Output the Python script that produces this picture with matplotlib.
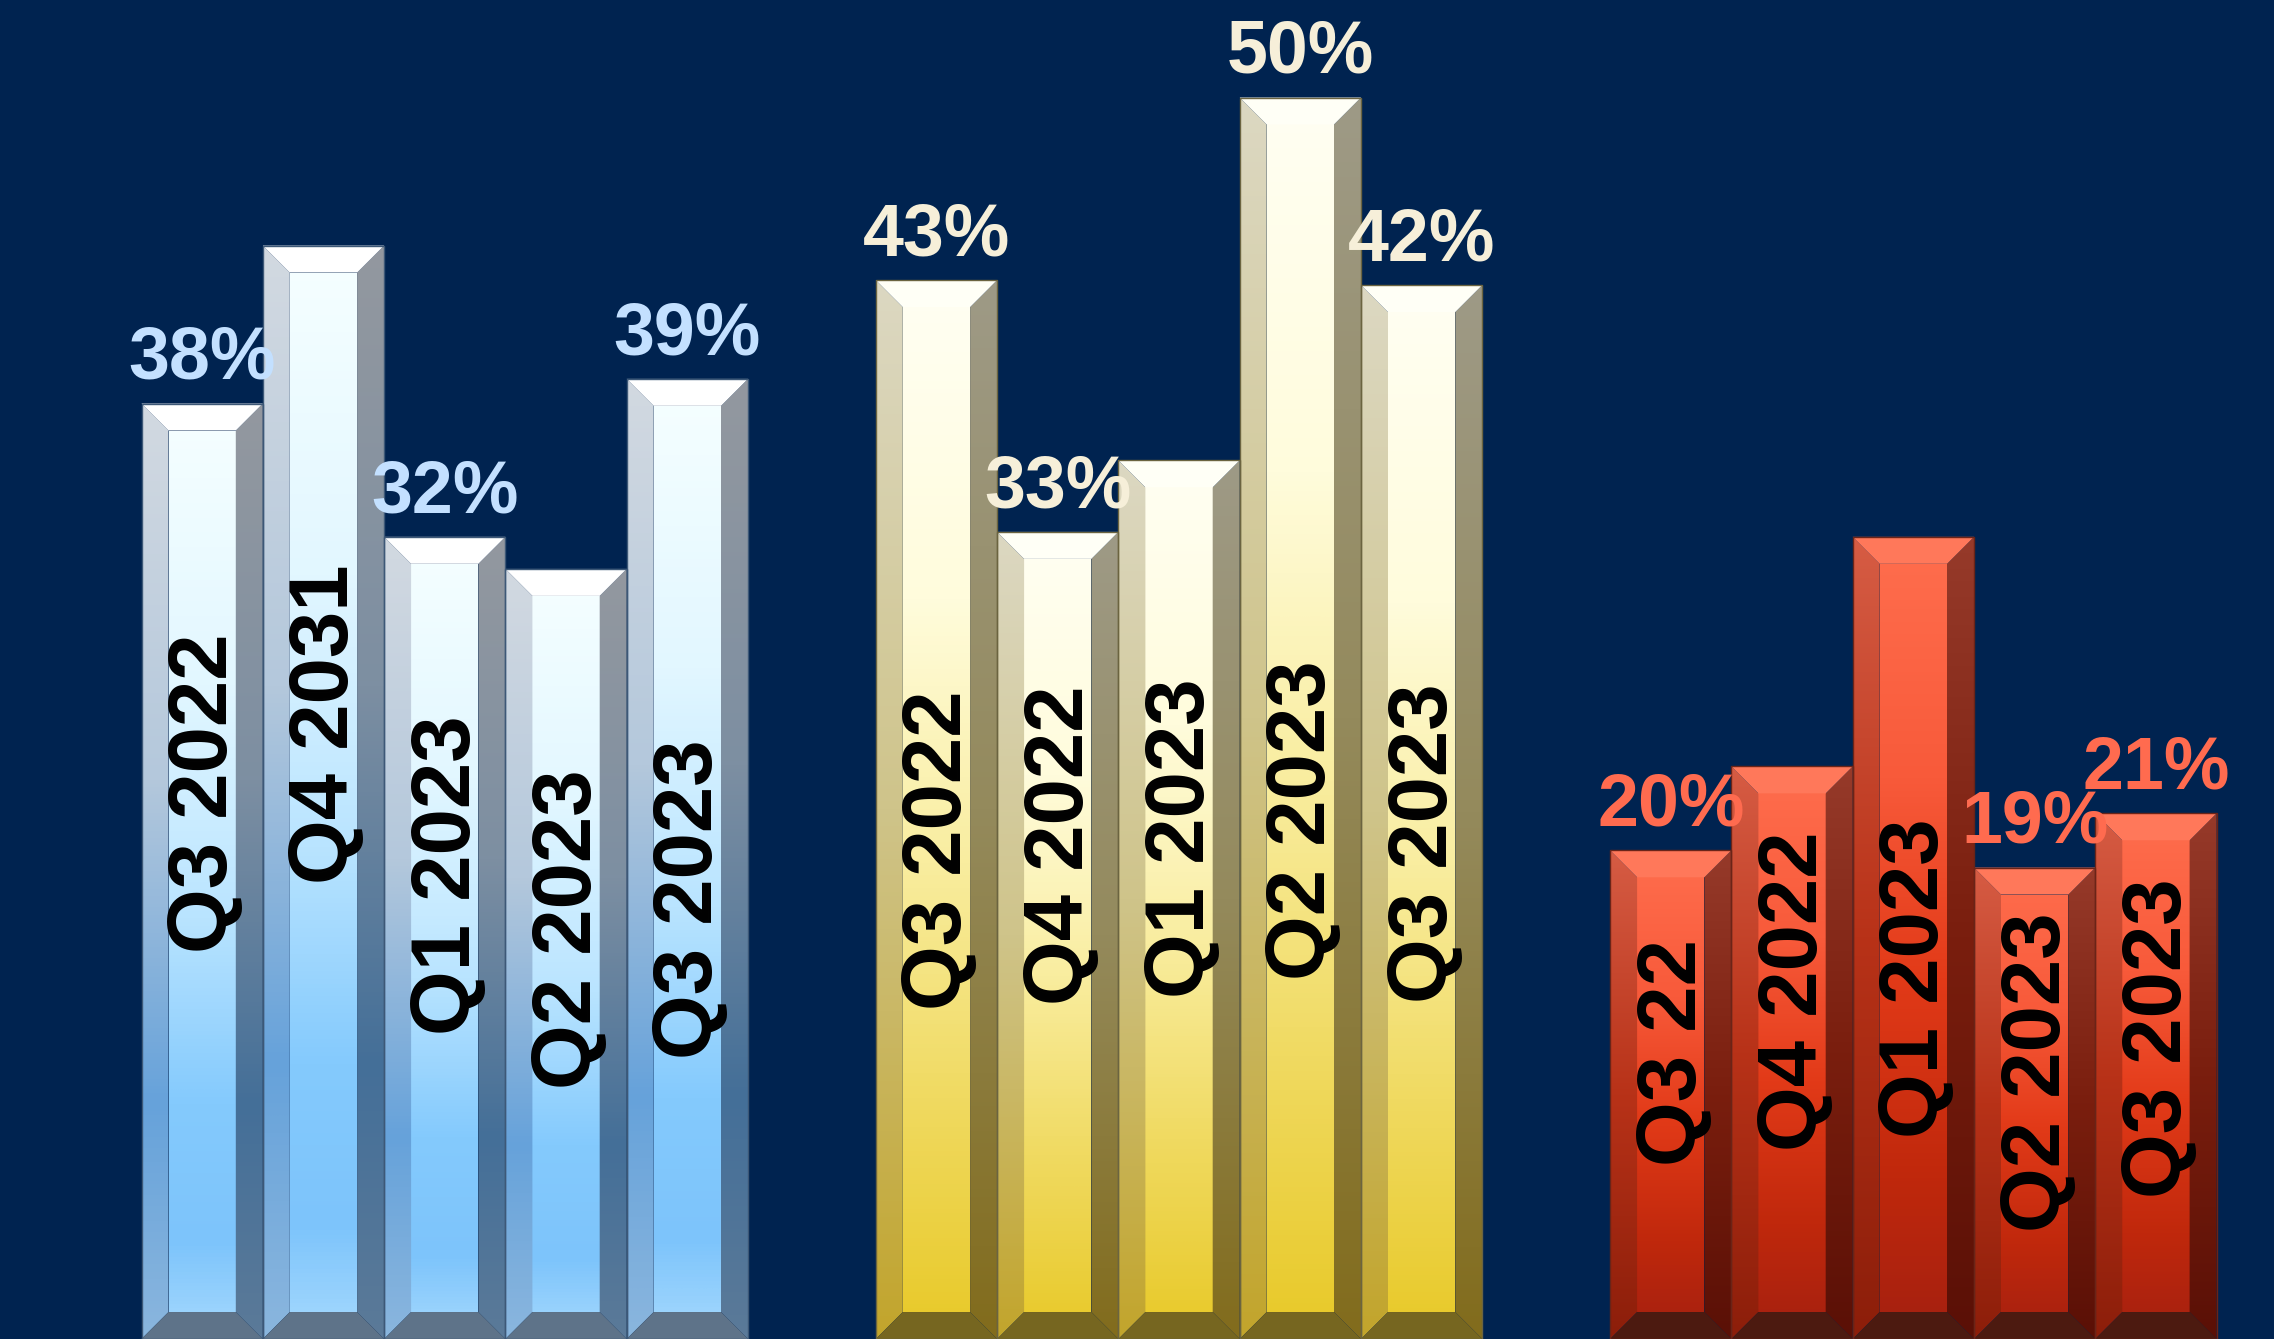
import numpy as np
import matplotlib
matplotlib.use("Agg")
import matplotlib.pyplot as plt
from matplotlib.colors import LinearSegmentedColormap
from matplotlib.patches import Polygon, Rectangle

# ====== data ======
# bar heights (labels are the printed, rounded text)
blue_cats = ["Q3 2022", "Q4 2031", "Q1 2023", "Q2 2023", "Q3 2023"]
blue_vals = [37.9, 44.3, 32.5, 31.2, 38.9]
blue_labels = ["38%", "", "32%", "", "39%"]

gold_cats = ["Q3 2022", "Q4 2022", "Q1 2023", "Q2 2023", "Q3 2023"]
gold_vals = [42.9, 32.7, 35.6, 50.3, 42.7]
gold_labels = ["43%", "33%", "", "50%", "42%"]

red_cats = ["Q3 22", "Q4 2022", "Q1 2023", "Q2 2023", "Q3 2023"]
red_vals = [19.8, 23.2, 32.5, 19.1, 21.3]
red_labels = ["20%", "", "", "19%", "21%"]

# where the rotated category text sits (value units, center of text)
blue_text_y = [22.1, 24.9, 18.8, 16.6, 17.8]
gold_text_y = [19.8, 20.0, 20.3, 21.0, 20.1]
red_text_y = [11.6, 14.1, 14.6, 10.8, 12.2]

# ====== styles ======
BG = "#002350"
FONT = ["Liberation Sans", "DejaVu Sans"]

styles = [
    {   # blue
        "face": [(0, "#f6ffff"), (0.3, "#e2f7ff"), (0.55, "#b9e4ff"), (0.75, "#84cafd"), (0.9, "#7dc4fb"), (1, "#a5d9fe")],
        "left": [(0, "#d2d9e1"), (0.4, "#b4c8dc"), (0.75, "#66a2da"), (1, "#8ab6de")],
        "right": [(0, "#93989f"), (0.4, "#7d8fa2"), (0.75, "#446f98"), (1, "#5b7a99")],
        "top": "#ffffff", "bottom": "#5e7389", "edge": "#3d5877", "label": "#c3e0ff",
    },
    {   # gold
        "face": [(0, "#fffff3"), (0.3, "#fffcdc"), (0.55, "#f9ed9f"), (0.8, "#efd85a"), (1, "#e8c928")],
        "left": [(0, "#dcd8c2"), (0.5, "#cfc48a"), (1, "#c2a52c")],
        "right": [(0, "#9e9a86"), (0.5, "#948a5c"), (1, "#826c1c")],
        "top": "#fffff6", "bottom": "#766620", "edge": "#6b6440", "label": "#f6efd9",
    },
    {   # red
        "face": [(0, "#ff6e4e"), (0.3, "#f85a3a"), (0.55, "#e23a18"), (0.8, "#c0280c"), (1, "#a42010")],
        "left": [(0, "#d65c44"), (0.5, "#b83218"), (1, "#8c1e0a")],
        "right": [(0, "#963a2a"), (0.5, "#7a1e0e"), (1, "#5a1006")],
        "top": "#ff785a", "bottom": "#4c1a10", "edge": "#6a2418", "label": "#ff6b4f",
    },
]

# layout (pixels on x, value units on y)
BAR_W = 121.3
GROUP_X0 = 141.5
GROUP_STEP = 734.3
PX_PER_UNIT = 24.7
BEVEL_X = 27
BEVEL_Y = 27 / PX_PER_UNIT

grad = np.linspace(0, 1, 256).reshape(-1, 1)


def draw_bar(ax, x0, h, st):
    x1 = x0 + BAR_W
    xi0, xi1 = x0 + BEVEL_X, x1 - BEVEL_X
    yt, yti = h, h - BEVEL_Y
    yb, ybi = 0, BEVEL_Y
    face = Polygon([(xi0, ybi), (xi1, ybi), (xi1, yti), (xi0, yti)])
    left = Polygon([(x0, yb), (xi0, ybi), (xi0, yti), (x0, yt)])
    right = Polygon([(x1, yb), (x1, yt), (xi1, yti), (xi1, ybi)])
    for poly, key in ((face, "face"), (left, "left"), (right, "right")):
        poly.set_facecolor("none")
        poly.set_edgecolor("none")
        ax.add_patch(poly)
        cmap = LinearSegmentedColormap.from_list(key, st[key])
        im = ax.imshow(grad, cmap=cmap, extent=(x0, x1, 0, h), aspect="auto",
                       origin="upper", interpolation="bilinear", zorder=2)
        im.set_clip_path(poly)
    top = Polygon([(x0, yt), (x1, yt), (xi1, yti), (xi0, yti)],
                  facecolor=st["top"], edgecolor="none", zorder=2.1)
    bottom = Polygon([(x0, yb), (x1, yb), (xi1, ybi), (xi0, ybi)],
                     facecolor=st["bottom"], edgecolor="none", zorder=2.1)
    ax.add_patch(top)
    ax.add_patch(bottom)
    ax.add_patch(Rectangle((x0, 0), BAR_W, h, facecolor="none",
                           edgecolor=st["edge"], linewidth=1.0, zorder=2.2))


fig = plt.figure(figsize=(22.74, 13.39), dpi=100)
fig.patch.set_facecolor(BG)
ax = fig.add_axes([0, 0, 1, 1])
ax.set_facecolor(BG)

groups = [
    (blue_cats, blue_vals, blue_labels, blue_text_y),
    (gold_cats, gold_vals, gold_labels, gold_text_y),
    (red_cats, red_vals, red_labels, red_text_y),
]

for g, (cats, vals, labels, text_y) in enumerate(groups):
    st = styles[g]
    gx = GROUP_X0 + g * GROUP_STEP
    for i, (cat, v, lab, ty) in enumerate(zip(cats, vals, labels, text_y)):
        x0 = gx + i * BAR_W
        draw_bar(ax, x0, v, st)
        xc = x0 + BAR_W / 2
        ax.text(xc + 3, ty, cat, rotation=90, ha="center", va="center",
                fontsize=60, fontweight="bold", family=FONT, color="black", zorder=3)
        if lab:
            ax.text(xc, v + 1.0, lab, ha="center", va="baseline",
                    fontsize=53, fontweight="bold", family=FONT,
                    color=st["label"], zorder=4)

ax.set_xlim(0, 2274)
ax.set_ylim(0, 1340 / PX_PER_UNIT)
ax.axis("off")

fig.savefig("out.png", dpi=100, facecolor=BG)
